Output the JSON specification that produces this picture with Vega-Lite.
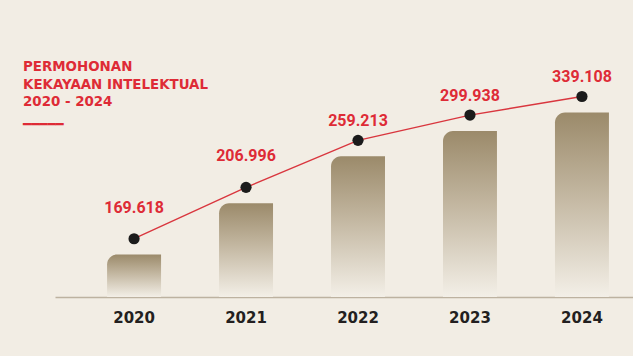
{
  "$schema": "https://vega.github.io/schema/vega-lite/v6.json",
  "width": 578,
  "height": 297,
  "autosize": {"type": "none"},
  "padding": {"left": 55, "top": 0, "right": 0, "bottom": 59},
  "background": "#f2ede4",
  "config": {
    "view": {"stroke": null},
    "locale": {"number": {"decimal": ",", "thousands": ".", "grouping": [3], "currency": ["Rp", ""]}}
  },
  "title": {
    "text": ["PERMOHONAN", "KEKAYAAN INTELEKTUAL", "2020 - 2024"],
    "subtitle": "━━━━━",
    "anchor": "start",
    "frame": "group",
    "orient": "top",
    "offset": 0,
    "dx": -32,
    "dy": 131,
    "baseline": "top",
    "font": "DejaVu Sans",
    "fontSize": 13.4,
    "fontWeight": "bold",
    "color": "#de2b36",
    "lineHeight": 17.5,
    "subtitleFont": "DejaVu Sans Mono",
    "subtitleFontSize": 13.5,
    "subtitleColor": "#de2b36",
    "subtitlePadding": 9
  },
  "data": {
    "values": [
      {"tahun": "2020", "permohonan": 169618},
      {"tahun": "2021", "permohonan": 206996},
      {"tahun": "2022", "permohonan": 259213},
      {"tahun": "2023", "permohonan": 299938},
      {"tahun": "2024", "permohonan": 339108}
    ]
  },
  "layer": [
    {
      "mark": {
        "type": "bar",
        "cornerRadiusTopLeft": 10,
        "fill": {
          "gradient": "linear",
          "x1": 0, "y1": 0, "x2": 0, "y2": 1,
          "stops": [
            {"offset": 0, "color": "#9b8a6a"},
            {"offset": 0.45, "color": "#c3b7a1"},
            {"offset": 1, "color": "#f3efe7"}
          ]
        }
      },
      "encoding": {
        "x": {
          "field": "tahun",
          "type": "ordinal",
          "scale": {"paddingInner": 0.518, "paddingOuter": 0.34, "align": 0.684},
          "axis": {
            "title": null,
            "labelAngle": 0,
            "labelFont": "DejaVu Sans",
            "labelFontSize": 15,
            "labelFontWeight": "bold",
            "labelColor": "#231f20",
            "labelPadding": 13,
            "ticks": false,
            "grid": false,
            "domainColor": "#bdb2a0",
            "domainWidth": 1.5
          }
        },
        "y": {
          "field": "permohonan",
          "type": "quantitative",
          "scale": {"type": "pow", "exponent": -1, "domain": [147573, 1620700], "nice": false, "zero": false},
          "axis": null
        },
        "y2": {"datum": 147573}
      }
    },
    {
      "mark": {"type": "line", "color": "#d9363e", "strokeWidth": 1.4},
      "encoding": {
        "x": {"field": "tahun", "type": "ordinal"},
        "y": {
          "field": "permohonan",
          "type": "quantitative",
          "scale": {"type": "pow", "exponent": -1, "domain": [140787, 1052500], "nice": false, "zero": false},
          "axis": null
        }
      }
    },
    {
      "mark": {"type": "point", "filled": true, "size": 125, "color": "#1b1b1b", "opacity": 1},
      "encoding": {
        "x": {"field": "tahun", "type": "ordinal"},
        "y": {
          "field": "permohonan",
          "type": "quantitative",
          "scale": {"type": "pow", "exponent": -1, "domain": [140787, 1052500], "nice": false, "zero": false},
          "axis": null
        }
      }
    },
    {
      "transform": [{"filter": "datum.tahun == '2020' || datum.tahun == '2021'"}],
      "mark": {"type": "text", "font": "Roboto", "fontSize": 16, "fontWeight": "bold", "color": "#de2b36", "baseline": "middle", "dy": -31},
      "encoding": {
        "x": {"field": "tahun", "type": "ordinal"},
        "y": {
          "field": "permohonan",
          "type": "quantitative",
          "scale": {"type": "pow", "exponent": -1, "domain": [140787, 1052500], "nice": false, "zero": false},
          "axis": null
        },
        "text": {"field": "permohonan", "type": "quantitative", "format": ",d"}
      }
    },
    {
      "transform": [{"filter": "datum.tahun != '2020' && datum.tahun != '2021'"}],
      "mark": {"type": "text", "font": "Roboto", "fontSize": 16, "fontWeight": "bold", "color": "#de2b36", "baseline": "middle", "dy": -19},
      "encoding": {
        "x": {"field": "tahun", "type": "ordinal"},
        "y": {
          "field": "permohonan",
          "type": "quantitative",
          "scale": {"type": "pow", "exponent": -1, "domain": [140787, 1052500], "nice": false, "zero": false},
          "axis": null
        },
        "text": {"field": "permohonan", "type": "quantitative", "format": ",d"}
      }
    }
  ],
  "resolve": {"scale": {"y": "independent"}}
}
